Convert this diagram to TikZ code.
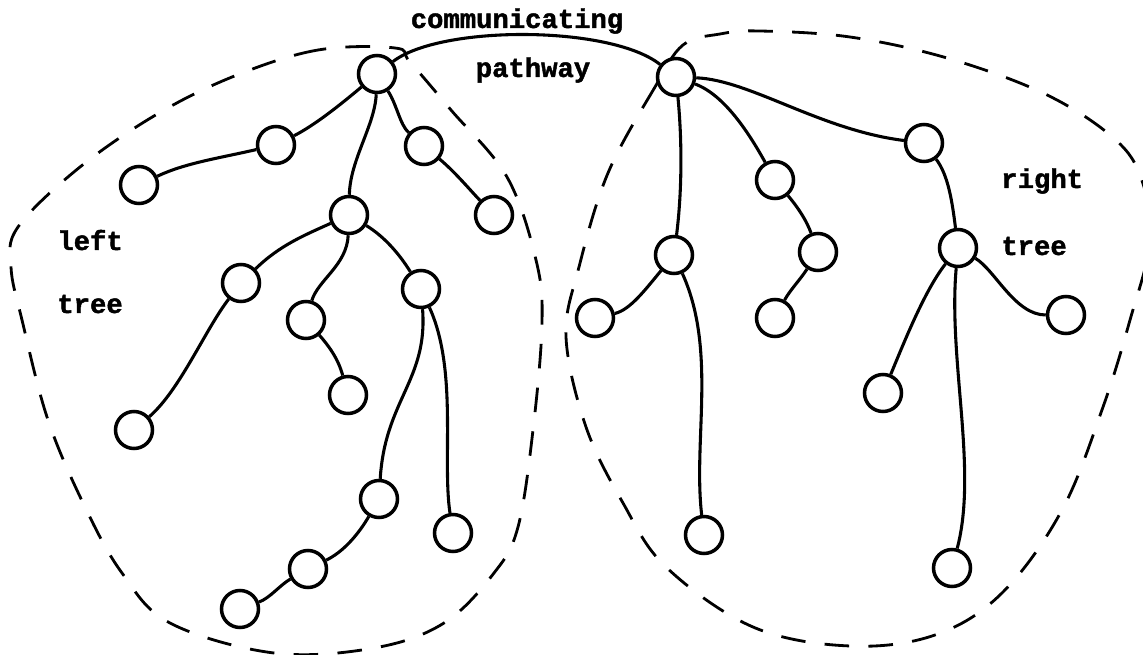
\documentclass[tikz,border=0pt]{standalone}
\usepackage{fontspec}
\newfontfamily\twfont[FakeBold=1.6]{Liberation Mono Bold}
\begin{document}
\begin{tikzpicture}[x=0.02cm,y=-0.02cm,
  nd/.style={circle,draw,fill=white,line width=2pt,minimum size=0.74cm,inner sep=0pt},
  ed/.style={line width=1.75pt},
  bd/.style={line width=1.6pt,dash pattern=on 14pt off 11pt},
  lbl/.style={font=\twfont\fontsize{15.5}{18}\selectfont,inner sep=0pt}]
\useasboundingbox (0,0) rectangle (1143,655);
\clip (0,0) rectangle (1143,655);
% boundaries
\draw[bd] plot[smooth cycle,tension=0.6] coordinates {(395,48) (318,50) (237,75) (159,113) (80,167) (18,227) (11,267) (22,320) (48,420) (85,507) (122,573) (170,623) (274,653) (374,648) (444,623) (494,573) (518,527) (533,430) (542,323) (536,260) (507,177) (451,110) (410,62)};
\draw[bd] plot[smooth cycle,tension=0.6] coordinates {(683,45) (655,87) (608,173) (579,267) (566,337) (586,427) (623,503) (666,567) (753,627) (850,646) (935,635) (1002,593) (1062,510) (1103,407) (1130,320) (1150,240) (1140,175) (1110,135) (1043,93) (947,58) (850,37) (760,31) (720,34)};
% nodes left tree
\node[nd] (A) at (377,74) {};
\node[nd] (B) at (276,145) {};
\node[nd] (C) at (139,185) {};
\node[nd] (D) at (424,146) {};
\node[nd] (E) at (494,215) {};
\node[nd] (F) at (349,215) {};
\node[nd] (G) at (241,283) {};
\node[nd] (H) at (134,430) {};
\node[nd] (I) at (306,320) {};
\node[nd] (J) at (348,395) {};
\node[nd] (K) at (421,289) {};
\node[nd] (M) at (379,499) {};
\node[nd] (N) at (453,533) {};
\node[nd] (O) at (308,569) {};
\node[nd] (P) at (240,609) {};
% nodes right tree
\node[nd] (R) at (676,77) {};
\node[nd] (S) at (924,143) {};
\node[nd] (T) at (775,180) {};
\node[nd] (U) at (674,255) {};
\node[nd] (V) at (818,252) {};
\node[nd] (W) at (958,248) {};
\node[nd] (X) at (595,318) {};
\node[nd] (Y) at (775,318) {};
\node[nd] (Z) at (1066,315) {};
\node[nd] (AA) at (883,393) {};
\node[nd] (BB) at (704,535) {};
\node[nd] (CC) at (952,568) {};
% edges left
\draw[ed] (A) .. controls (340,105) and (315,125) .. (B);
\draw[ed] (B) .. controls (220,158) and (185,163) .. (C);
\draw[ed] (A) .. controls (397,105) and (400,125) .. (D);
\draw[ed] (D) .. controls (455,172) and (470,190) .. (E);
\draw[ed] (A) .. controls (375,125) and (350,160) .. (F);
\draw[ed] (F) .. controls (305,235) and (280,245) .. (G);
\draw[ed] (G) .. controls (205,330) and (180,390) .. (H);
\draw[ed] (F) .. controls (347,265) and (318,280) .. (I);
\draw[ed] (I) .. controls (328,345) and (338,358) .. (J);
\draw[ed] (F) .. controls (385,237) and (400,255) .. (K);
\draw[ed] (K) .. controls (428,380) and (385,400) .. (M);
\draw[ed] (K) .. controls (458,370) and (442,460) .. (N);
\draw[ed] (M) .. controls (358,535) and (343,552) .. (O);
\draw[ed] (O) .. controls (280,585) and (270,598) .. (P);
% edges right
\draw[ed] (R) .. controls (750,80) and (820,130) .. (S);
\draw[ed] (S) .. controls (948,175) and (952,200) .. (W);
\draw[ed] (W) .. controls (995,270) and (1015,315) .. (Z);
\draw[ed] (W) .. controls (925,290) and (905,340) .. (AA);
\draw[ed] (W) .. controls (948,360) and (978,470) .. (CC);
\draw[ed] (R) .. controls (725,95) and (750,135) .. (T);
\draw[ed] (T) .. controls (800,210) and (807,222) .. (V);
\draw[ed] (V) .. controls (800,280) and (790,290) .. (Y);
\draw[ed] (R) .. controls (683,150) and (681,200) .. (U);
\draw[ed] (U) .. controls (645,290) and (630,310) .. (X);
\draw[ed] (U) .. controls (717,350) and (693,440) .. (BB);
% communicating pathway
\draw[ed] (A) .. controls (440,25) and (610,25) .. (R);
% labels
\node[lbl,anchor=base] (t1) at (517,28) {communicating};
\node[lbl,anchor=base] (t2) at (533,77) {pathway};
\node[lbl,anchor=base west] (t3) at (57,250) {left};
\node[lbl,anchor=base west] (t4) at (57,313) {tree};
\node[lbl,anchor=base west] (t5) at (1001,188) {right};
\node[lbl,anchor=base west] (t6) at (1001,255) {tree};
\end{tikzpicture}
\end{document}
